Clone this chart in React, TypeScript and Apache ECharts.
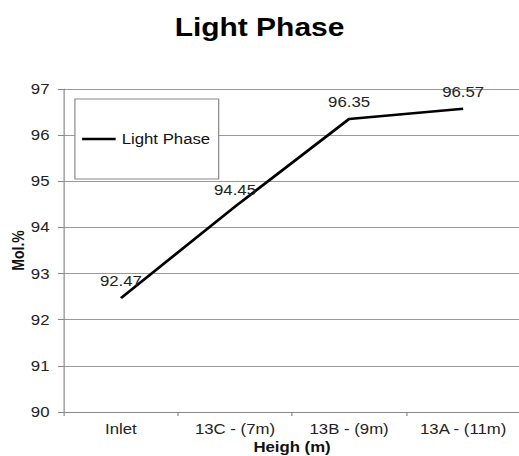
import React, { useEffect, useRef } from "react";
import * as echarts from "echarts";

const categories = ["Inlet", "13C - (7m)", "13B - (9m)", "13A - (11m)"];
const lightPhase = [92.47, 94.45, 96.35, 96.57];
const yMin = 90;
const yMax = 97;
const yStep = 1;

const INNER_W = 433;
const H = 456;
const SCALE = 519 / INNER_W;
const FONT = "'Liberation Sans', Arial, sans-serif";

export default function App() {
  const ref = useRef<HTMLDivElement>(null);
  useEffect(() => {
    if (!ref.current) return;
    const chart = echarts.init(ref.current, null, { renderer: "svg" });
    chart.setOption({
      animation: false,
      backgroundColor: "#fff",
      title: {
        text: "Light Phase",
        left: "center",
        top: 15,
        padding: 0,
        textStyle: { fontFamily: FONT, fontSize: 25, fontWeight: "bold", color: "#000" },
      },
      legend: {
        left: 62.5,
        top: 99,
        orient: "vertical",
        padding: [32, 7, 32, 6],
        itemWidth: 28,
        itemHeight: 2.4,
        backgroundColor: "#fff",
        borderColor: "#888",
        borderWidth: 1,
        borderRadius: 0,
        textStyle: { fontFamily: FONT, fontSize: 14, color: "#111", lineHeight: 16 },
        data: [{ name: "Light Phase", icon: "rect", itemStyle: { color: "#000" } }],
        itemStyle: { color: "#000" },
      },
      grid: {
        left: 53.3,
        right: -1,
        top: 89,
        bottom: 44,
        containLabel: false,
        outerBoundsMode: "none",
      },
      xAxis: {
        type: "category",
        data: categories,
        boundaryGap: true,
        name: "Heigh (m)",
        nameLocation: "middle",
        nameGap: 28,
        nameMoveOverlap: false,
        nameTextStyle: {
          fontFamily: FONT,
          fontSize: 14,
          fontWeight: "bold",
          color: "#111",
          lineHeight: 14,
        },
        axisLine: { lineStyle: { color: "#888", width: 1 } },
        axisTick: { show: true, length: 4, lineStyle: { color: "#888" } },
        axisLabel: { interval: 0, fontFamily: FONT, fontSize: 14, color: "#222", margin: 10 },
      },
      yAxis: {
        type: "value",
        min: yMin,
        max: yMax,
        interval: yStep,
        name: "Mol.%",
        nameLocation: "middle",
        nameGap: 31,
        nameMoveOverlap: false,
        nameTextStyle: { fontFamily: FONT, fontSize: 14, fontWeight: "bold", color: "#111" },
        axisLine: { show: true, lineStyle: { color: "#888", width: 1 } },
        axisTick: { show: true, length: 5, lineStyle: { color: "#888" } },
        axisLabel: { fontFamily: FONT, fontSize: 14, color: "#222", margin: 12 },
        splitLine: { show: true, lineStyle: { color: "#999", width: 1.2 } },
      },
      series: [
        {
          name: "Light Phase",
          type: "line",
          data: lightPhase,
          symbol: "circle",
          symbolSize: 0.01,
          showSymbol: true,
          lineStyle: { color: "#000", width: 2.5 },
          itemStyle: { color: "#000" },
          label: {
            show: true,
            position: "top",
            distance: 10,
            fontFamily: FONT,
            fontSize: 14,
            color: "#222",
          },
        },
      ],
    });
    return () => chart.dispose();
  }, []);
  return (
    <div
      ref={ref}
      style={{
        position: "absolute",
        left: 0,
        top: 0,
        width: INNER_W,
        height: H,
        transform: `scaleX(${SCALE})`,
        transformOrigin: "0 0",
      }}
    />
  );
}
